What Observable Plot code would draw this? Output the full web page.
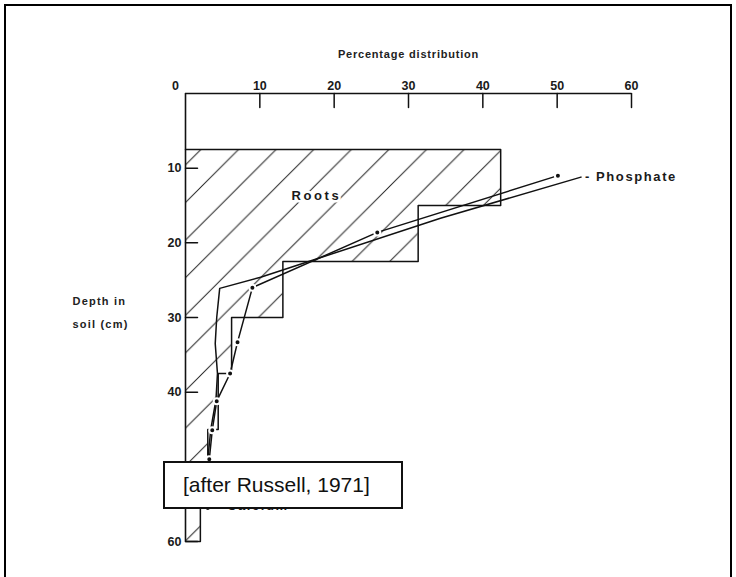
<!DOCTYPE html>
<html>
<head>
<meta charset="utf-8">
<script src="https://cdn.jsdelivr.net/npm/d3@7"></script>
<script src="https://cdn.jsdelivr.net/npm/@observablehq/plot@0.6"></script>
<style>
  html, body { margin: 0; padding: 0; background: #fff; overflow: hidden; }
  #wrap { position: relative; width: 736px; height: 577px; }
  #chart { position: absolute; left: 0; top: 0; }
  #border { position: absolute; left: 4px; top: 4px; width: 728px; height: 640px; box-sizing: border-box;
            border: 2px solid #000; border-bottom: none; pointer-events: none; }
  #note { position: absolute; left: 163px; top: 461px; width: 240px; height: 48px; box-sizing: border-box;
          border: 2px solid #111; background: #fff; color: #111; white-space: nowrap;
          font: 21px "Liberation Sans", Arial, sans-serif; line-height: 44px; padding-left: 18px; }
</style>
</head>
<body>
<div id="wrap">
  <div id="chart"></div>
  <div id="border"></div>
  <div id="note">[after Russell, 1971]</div>
</div>
<script>
// ---- data ----
const xTicks = [0, 10, 20, 30, 40, 50, 60];
const yTicks = [10, 20, 30, 40, 50, 60];

// Roots: percentage of roots per soil layer (depth in cm)
const rootTop    = [7.5, 15, 22.5, 30, 37.5, 45, 52.5];
const rootBottom = [15, 22.5, 30, 37.5, 45, 52.5, 60];
const rootPct    = [42.4, 31.3, 13.1, 6.2, 4.4, 3.0, 2.0];

// Phosphate uptake (line with dots)
const phosPct   = [50.1, 25.8, 9.0, 7.0, 6.0, 4.2, 3.6, 3.2, 3.0];
const phosDepth = [11.0, 18.6, 26.0, 33.3, 37.5, 41.2, 45.1, 49.0, 55.5];

// Calcium uptake (plain line)
const calcPct   = [53.2, 34.3, 17.8, 10.1, 4.6, 4.2, 4.0, 4.3, 4.1, 3.4, 3.0, 2.6];
const calcDepth = [11.2, 16.7, 22.1, 24.6, 26.1, 30, 33.5, 37.5, 41, 45, 49, 55.5];

// ---- derived tables ----
const layers = rootPct.map((p, i) => ({pct: p, top: rootTop[i], bottom: rootBottom[i]}));
const outline = [{x: 0, y: rootTop[0]}];
rootPct.forEach((p, i) => { outline.push({x: p, y: rootTop[i]}, {x: p, y: rootBottom[i]}); });
outline.push({x: 0, y: rootBottom[rootBottom.length - 1]});
const phos = phosPct.map((p, i) => ({x: p, y: phosDepth[i]}));
const calc = calcPct.map((p, i) => ({x: p, y: calcDepth[i]}));

const ink = "#111";
const tickShape = {draw(context, l) { context.moveTo(0, 0); context.lineTo(0, -l); }};
const tickFont = {fontSize: 12.5, fontWeight: "bold", fill: "#1a1a1a"};

const plot = Plot.plot({
  width: 736,
  height: 577,
  marginTop: 93,
  marginBottom: 36,
  marginLeft: 185,
  marginRight: 105,
  x: {domain: [0, 60]},
  y: {domain: [0, 60], reverse: true},
  style: {fontFamily: '"Liberation Sans", Arial, sans-serif', background: "transparent", color: ink},
  marks: [
    // hatched root histogram
    Plot.rect(layers, {x1: () => 0, x2: "pct", y1: "top", y2: "bottom", fill: "url(#hatch)"}),
    Plot.line(outline, {x: "x", y: "y", stroke: ink, strokeWidth: 1.5}),
    // axis lines
    Plot.ruleY([0], {stroke: ink, strokeWidth: 1.6}),
    Plot.ruleX([0], {stroke: ink, strokeWidth: 1.6}),
    // inward ticks
    Plot.vector(xTicks.slice(1), {x: d => d, y: () => 0, length: 14, rotate: 180, anchor: "start",
      shape: tickShape, stroke: ink, strokeWidth: 1.5}),
    Plot.vector(yTicks, {x: () => 0, y: d => d, length: 12, rotate: 90, anchor: "start",
      shape: tickShape, stroke: ink, strokeWidth: 1.5}),
    // tick labels
    Plot.axisX({anchor: "top", ticks: xTicks.slice(1), tickSize: 0, tickPadding: 4, label: null, ...tickFont}),
    Plot.axisX({anchor: "top", ticks: [0], tickSize: 0, tickPadding: 4, dx: -10, label: null, ...tickFont}),
    Plot.axisY({anchor: "left", ticks: yTicks, tickSize: 0, tickPadding: 4, label: null, ...tickFont}),
    // axis titles
    Plot.text(["Percentage distribution"], {frameAnchor: "top", dy: -43, fontSize: 11, fontWeight: 600,
      fill: "#222"}),
    Plot.text(["Depth in\nsoil (cm)"], {frameAnchor: "left", dx: -113, dy: -8.5, textAnchor: "start",
      lineHeight: 2.1, fontSize: 11, fontWeight: "bold", fill: "#222"}),
    // uptake lines
    Plot.line(calc, {x: "x", y: "y", stroke: ink, strokeWidth: 1.5}),
    Plot.line(phos, {x: "x", y: "y", stroke: ink, strokeWidth: 1.5}),
    Plot.dot(phos, {x: "x", y: "y", r: 3, fill: ink, stroke: "#fff", strokeWidth: 2}),
    // labels
    Plot.text(["Roots"], {x: () => 17.6, y: () => 13.7, fontSize: 13, fontWeight: "bold",
      fill: "#1a1a1a", stroke: "#fff", strokeWidth: 5}),
    Plot.text([phos[0]], {x: "x", y: "y", text: () => "- Phosphate", dx: 27, dy: 1, textAnchor: "start",
      fontSize: 13, fontWeight: "bold", fill: "#1a1a1a"}),
    Plot.text([calc[calc.length - 1]], {x: "x", y: "y", text: () => "- Calcium", dx: 11, dy: -2,
      textAnchor: "start", fontSize: 13, fontWeight: "bold", fill: "#1a1a1a"})
  ]
});

// hatch pattern definition
const svg = d3.select(plot);
const defs = svg.insert("defs", ":first-child");
const pat = defs.append("pattern")
  .attr("id", "hatch")
  .attr("patternUnits", "userSpaceOnUse")
  .attr("width", 37.6).attr("height", 37.6)
  .attr("x", 12).attr("y", 0);
pat.append("path")
  .attr("d", "M-2,2L2,-2M0,37.6L37.6,0M35.6,39.6L39.6,35.6")
  .attr("stroke", "#222").attr("stroke-width", 1).attr("fill", "none");

// letter spacing of the typewriter-like labels of the original
const spacing = {"Roots": "2.6px", "- Phosphate": "1.6px", "- Calcium": "1.6px",
                 "Percentage distribution": "0.8px", "Depth in": "1.2px", "soil (cm)": "1.2px"};
svg.selectAll("text, tspan").each(function() {
  const t = this.textContent;
  if (spacing[t] && (this.tagName === "tspan" || this.children.length === 0)) {
    this.style.letterSpacing = spacing[t];
  }
});

document.getElementById("chart").appendChild(plot);
</script>
</body>
</html>
